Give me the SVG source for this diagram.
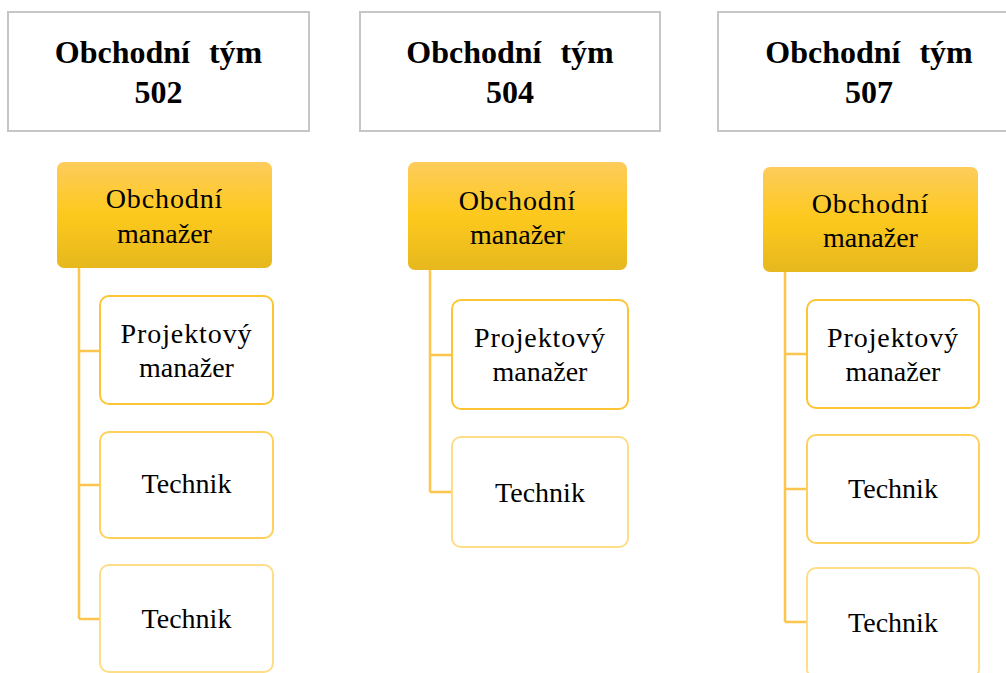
<svg xmlns="http://www.w3.org/2000/svg" width="1006" height="673" viewBox="0 0 1006 673">
<defs>
<linearGradient id="gold" x1="0" y1="0" x2="0" y2="1">
<stop offset="0" stop-color="#FDCC5C"/>
<stop offset="0.5" stop-color="#FDC91C"/>
<stop offset="1" stop-color="#E6B81E"/>
</linearGradient>
<style>
.hdr{fill:#fff;stroke:#C6C6C6;stroke-width:2}
.ht{font-family:"Liberation Serif","Times New Roman",serif;font-weight:bold;font-size:32px;fill:#000;text-anchor:middle;word-spacing:11px}
.mgr{fill:url(#gold);stroke:none}
.t{font-family:"Liberation Serif","Times New Roman",serif;font-size:28px;fill:#000;text-anchor:middle}
.ls{letter-spacing:0.9px}
.c1{fill:#fff;stroke:#FCC533;stroke-width:2}
.c2{fill:#fff;stroke:#FDD15C;stroke-width:2}
.c3{fill:#fff;stroke:#FEDD88;stroke-width:2}
.con{fill:none;stroke:#FCC64E;stroke-width:2.5}
</style>
</defs>
<rect width="1006" height="673" fill="#fff"/>
<g id="connectors">
<path class="con" d="M79 268 V619 M79 351 H100 M79 485 H100 M79 619 H100"/>
<path class="con" d="M430 270 V492 M430 355 H452 M430 492 H452"/>
<path class="con" d="M785 272 V622 M785 354 H807 M785 489 H807 M785 622 H807"/>
</g>
<g id="team502">
<rect class="hdr" x="8" y="12" width="301" height="119"/>
<text class="ht" x="158.5" y="63">Obchodní tým</text>
<text class="ht" x="158.5" y="103">502</text>
</g>
<g id="team504">
<rect class="hdr" x="360" y="12" width="300" height="119"/>
<text class="ht" x="510" y="63">Obchodní tým</text>
<text class="ht" x="510" y="103">504</text>
</g>
<g id="team507">
<rect class="hdr" x="718" y="12" width="302" height="119"/>
<text class="ht" x="869" y="63">Obchodní tým</text>
<text class="ht" x="869" y="103">507</text>
</g>
<g id="mgr1">
<rect class="mgr" x="57" y="162" width="215" height="106" rx="7"/>
<text class="t ls" x="164.5" y="208">Obchodní</text>
<text class="t" x="164.5" y="243">manažer</text>
</g>
<g id="pm1">
<rect class="c1" x="100" y="296" width="173" height="108" rx="9"/>
<text class="t ls" x="186.5" y="343">Projektový</text>
<text class="t" x="186.5" y="377">manažer</text>
</g>
<g id="tech1a">
<rect class="c2" x="100" y="432" width="173" height="106" rx="9"/>
<text class="t" x="186.5" y="493">Technik</text>
</g>
<g id="tech1b">
<rect class="c3" x="100" y="565" width="173" height="107" rx="9"/>
<text class="t" x="186.5" y="628">Technik</text>
</g>
<g id="mgr2">
<rect class="mgr" x="408" y="162" width="219" height="108" rx="7"/>
<text class="t ls" x="517.5" y="210">Obchodní</text>
<text class="t" x="517.5" y="244">manažer</text>
</g>
<g id="pm2">
<rect class="c1" x="452" y="300" width="176" height="109" rx="9"/>
<text class="t ls" x="540" y="347">Projektový</text>
<text class="t" x="540" y="381">manažer</text>
</g>
<g id="tech2">
<rect class="c3" x="452" y="437" width="176" height="110" rx="9"/>
<text class="t" x="540" y="502">Technik</text>
</g>
<g id="mgr3">
<rect class="mgr" x="763" y="167" width="215" height="105" rx="7"/>
<text class="t ls" x="870.5" y="213">Obchodní</text>
<text class="t" x="870.5" y="247">manažer</text>
</g>
<g id="pm3">
<rect class="c1" x="807" y="300" width="172" height="108" rx="9"/>
<text class="t ls" x="893" y="347">Projektový</text>
<text class="t" x="893" y="381">manažer</text>
</g>
<g id="tech3a">
<rect class="c2" x="807" y="435" width="172" height="108" rx="9"/>
<text class="t" x="893" y="498">Technik</text>
</g>
<g id="tech3b">
<rect class="c3" x="807" y="568" width="172" height="110" rx="9"/>
<text class="t" x="893" y="632">Technik</text>
</g>
</svg>
